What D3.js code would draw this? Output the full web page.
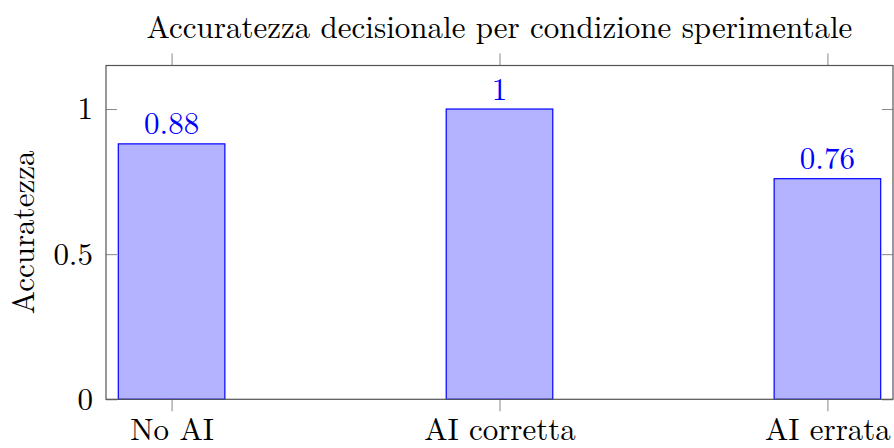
<!DOCTYPE html>
<html>
<head>
<meta charset="utf-8">
<script src="https://cdn.jsdelivr.net/npm/d3@7"></script>
<style>
  body { margin: 0; background: #fff; }
</style>
</head>
<body>
<svg width="894" height="448"></svg>
<script>
// Data
var categories = ["No AI", "AI corretta", "AI errata"];
var accuracy = [0.88, 1, 0.76];
var yTicks = [0, 0.5, 1];

var svg = d3.select("svg"),
    width = +svg.attr("width"),
    height = +svg.attr("height");

var fontFamily = "'Latin Modern Roman', 'Liberation Serif', serif";
var fontSize = 31;

var margin = {top: 65.5, right: 1, bottom: 48.7, left: 106};
var w = width - margin.left - margin.right,
    h = height - margin.top - margin.bottom;

var g = svg.append("g")
    .attr("transform", "translate(" + margin.left + "," + margin.top + ")");

// Scales
var x = d3.scalePoint()
    .domain(categories)
    .range([0, w])
    .padding(0.2);

var y = d3.scaleLinear()
    .domain([0, 1.15])
    .range([h, 0]);

var barWidth = x.step() * 0.325;

// Bars
g.selectAll("rect.bar")
    .data(accuracy)
    .enter().append("rect")
    .attr("class", "bar")
    .attr("x", function(d, i) { return x(categories[i]) - barWidth / 2; })
    .attr("y", function(d) { return y(d); })
    .attr("width", barWidth)
    .attr("height", function(d) { return y(0) - y(d); })
    .attr("fill", "#b3b3ff")
    .attr("stroke", "#0000ff")
    .attr("stroke-width", 1.2);

// Value labels
g.selectAll("text.val")
    .data(accuracy)
    .enter().append("text")
    .attr("class", "val")
    .attr("x", function(d, i) { return x(categories[i]); })
    .attr("y", function(d) { return y(d) - 9.5; })
    .attr("text-anchor", "middle")
    .attr("fill", "#0000ff")
    .style("font-family", fontFamily)
    .style("font-size", fontSize + "px")
    .text(function(d) { return String(d); });

// Axes
function styleAxis(sel, showText) {
    sel.attr("font-family", null).attr("font-size", null);
    sel.select(".domain").remove();
    sel.selectAll(".tick line").attr("stroke", "#888").attr("stroke-width", 1);
    sel.selectAll(".tick text")
        .attr("fill", "#000")
        .style("font-size", fontSize + "px")
        .style("font-family", fontFamily);
    if (!showText) sel.selectAll(".tick text").remove();
}

g.append("g")
    .attr("transform", "translate(0," + h + ")")
    .call(d3.axisBottom(x).tickSize(12).tickPadding(7))
    .call(styleAxis, true);

g.append("g")
    .call(d3.axisTop(x).tickSize(12))
    .call(styleAxis, false);

g.append("g")
    .call(d3.axisLeft(y).tickValues(yTicks).tickSize(-11).tickPadding(13)
        .tickFormat(function(d) { return String(d); }))
    .call(styleAxis, true);

g.append("g")
    .attr("transform", "translate(" + w + ",0)")
    .call(d3.axisRight(y).tickValues(yTicks).tickSize(-11))
    .call(styleAxis, false);

// Frame
g.append("rect")
    .attr("width", w)
    .attr("height", h)
    .attr("fill", "none")
    .attr("stroke", "#555")
    .attr("stroke-width", 1.2);

// Title
svg.append("text")
    .attr("x", margin.left + w / 2)
    .attr("y", 38)
    .attr("text-anchor", "middle")
    .style("font-family", fontFamily)
    .style("font-size", fontSize + "px")
    .text("Accuratezza decisionale per condizione sperimentale");

// Y axis label
svg.append("text")
    .attr("transform", "translate(34," + (margin.top + h / 2) + ") rotate(-90)")
    .attr("text-anchor", "middle")
    .style("font-family", fontFamily)
    .style("font-size", fontSize + "px")
    .text("Accuratezza");
</script>
</body>
</html>
